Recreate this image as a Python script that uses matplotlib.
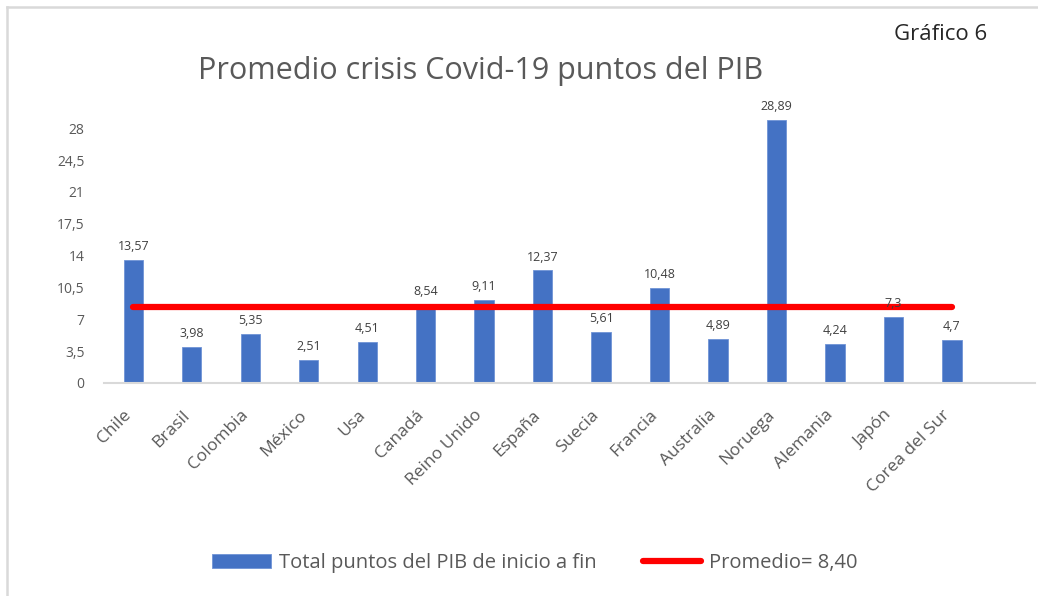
import matplotlib
matplotlib.use("Agg")
import matplotlib.pyplot as plt
import matplotlib.transforms as mtransforms
from matplotlib.lines import Line2D

paises = ["Chile", "Brasil", "Colombia", "México", "Usa", "Canadá", "Reino Unido",
          "España", "Suecia", "Francia", "Australia", "Noruega", "Alemania",
          "Japón", "Corea del Sur"]
puntos_pib = [13.57, 3.98, 5.35, 2.51, 4.51, 8.54, 9.11, 12.37, 5.61, 10.48,
              4.89, 28.89, 4.24, 7.3, 4.7]
etiquetas = ["13,57", "3,98", "5,35", "2,51", "4,51", "8,54", "9,11", "12,37",
             "5,61", "10,48", "4,89", "28,89", "4,24", "7,3", "4,7"]
promedio = [8.40] * len(paises)
yticks = [0, 3.5, 7, 10.5, 14, 17.5, 21, 24.5, 28]
ytick_labels = ["0", "3,5", "7", "10,5", "14", "17,5", "21", "24,5", "28"]

plt.rcParams['font.family'] = ['Open Sans', 'DejaVu Sans']
gris = "#595959"

fig = plt.figure(figsize=(10.38, 5.96), dpi=100)
ax = fig.add_axes([104/1038, 1 - 383/596, (1035 - 104)/1038, 282/596])

x = list(range(len(paises)))
barras = ax.bar(x, puntos_pib, width=0.33, color="#4472C4", edgecolor="#6f93d6",
                linewidth=0.6, label="Total puntos del PIB de inicio a fin", zorder=2)
linea, = ax.plot(x, promedio, color="#ff0000", linewidth=4.5, solid_capstyle="round",
                 label="Promedio= 8,40", zorder=3)

for xi, v, t in zip(x, puntos_pib, etiquetas):
    ax.annotate(t, (xi, v), xytext=(0, 5), textcoords="offset points",
                ha="center", va="bottom", fontsize=9, color="#404040",
                clip_on=False)

ax.set_xlim(-0.5, 15.42)
ax.set_ylim(0, 31)
ax.set_yticks(yticks)
ax.set_yticklabels(ytick_labels, fontsize=10, color=gris)
ax.set_xticks(x)
ax.set_xticklabels(paises, rotation=45, ha="right", rotation_mode="anchor",
                   fontsize=12.5, color=gris)
ax.tick_params(axis="both", length=0)
ax.tick_params(axis="y", pad=14)
ax.tick_params(axis="x", pad=13)
# corrimiento de las etiquetas giradas (como en Excel)
desplaza = mtransforms.ScaledTranslation(-10/100, -6/100, fig.dpi_scale_trans)
for lab in ax.get_xticklabels():
    lab.set_transform(lab.get_transform() + desplaza)
for s in ["top", "right", "left"]:
    ax.spines[s].set_visible(False)
ax.spines["bottom"].set_color("#d9d9d9")
ax.spines["bottom"].set_linewidth(1.5)

fig.text(481/1038, 1 - 71/596, "Promedio crisis Covid-19 puntos del PIB",
         ha="center", va="center", fontsize=22, color=gris)
fig.text(941/1038, 1 - 35/596, "Gráfico 6", ha="center", va="center",
         fontsize=16, color="#262626")

fig.legend([barras, linea], ["Total puntos del PIB de inicio a fin", "Promedio= 8,40"],
           loc="center", bbox_to_anchor=(535/1038, 1 - 563/596),
           ncol=2, frameon=False, fontsize=14.5, labelcolor=gris,
           handlelength=2.9, handletextpad=0.4, columnspacing=2.3)

# marco gris del grafico
fig.add_artist(Line2D([7/1038, 7/1038], [-0.01, 1 - 7/596], color="#d9d9d9",
                      linewidth=1.8, transform=fig.transFigure))
fig.add_artist(Line2D([7/1038, 1.01], [1 - 7/596, 1 - 7/596], color="#d9d9d9",
                      linewidth=1.8, transform=fig.transFigure))

fig.savefig("out.png", dpi=100, facecolor="white")
